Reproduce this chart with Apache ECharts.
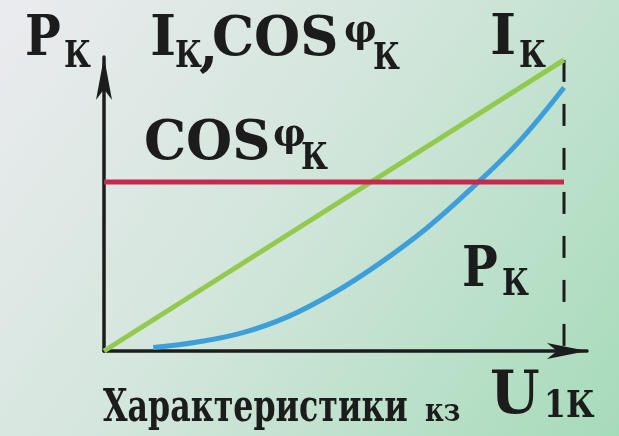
<!DOCTYPE html>
<html>
<head>
<meta charset="utf-8">
<script src="https://cdn.jsdelivr.net/npm/echarts@6/dist/echarts.min.js"></script>
<style>
  html, body { margin: 0; padding: 0; }
  #main { width: 619px; height: 436px; }
</style>
</head>
<body>
<div id="main"></div>
<script>
// U1к (relative), values
var currentPts = [[0, 0], [1, 1]];                 // Iк
var cosPts = [[0, 0.581], [1, 0.581]];             // cos φк
var powerPts = [                                    // Pк
    [0.107, 0.012], [0.2, 0.03], [0.3, 0.062], [0.4, 0.118],
    [0.5, 0.2], [0.6, 0.302], [0.7, 0.42], [0.8, 0.56],
    [0.9, 0.715], [1.0, 0.905]
];
var limitPts = [[1, 1], [1, 0]];                    // dashed U1к limit

var ink = '#1c1c1c';

function txt(s, x, y, size, sx, fam) {
    return {
        type: 'text',
        x: x, y: y,
        scaleX: sx || 1,
        style: {
            text: s,
            fontFamily: fam || 'DejaVu Serif',
            fontWeight: 'bold',
            fontSize: size,
            fill: ink,
            verticalAlign: 'middle'
        }
    };
}

var chart = echarts.init(document.getElementById('main'));
var option = {
    animation: false,
    backgroundColor: {
        type: 'linear', x: 0, y: 0, x2: 1, y2: 1,
        colorStops: [
            { offset: 0, color: '#ebebef' },
            { offset: 0.45, color: '#d3e6dc' },
            { offset: 1, color: '#a6dbba' }
        ]
    },
    grid: { left: 104, right: 32, top: 57, bottom: 85 },
    xAxis: {
        type: 'value', min: 0, max: 1.05,
        axisLine: {
            symbol: ['none', 'arrow'], symbolSize: [12, 40],
            lineStyle: { color: ink, width: 3.5 }
        },
        axisTick: { show: false }, axisLabel: { show: false },
        splitLine: { show: false }
    },
    yAxis: {
        type: 'value', min: 0, max: 1.01,
        axisLine: {
            show: true,
            symbol: ['none', 'arrow'], symbolSize: [12, 43],
            lineStyle: { color: ink, width: 3.5 }
        },
        axisTick: { show: false }, axisLabel: { show: false },
        splitLine: { show: false }
    },
    series: [{
        type: 'line', data: limitPts, symbol: 'none',
        lineStyle: { color: ink, width: 3, type: [22, 22] }
    }, {
        type: 'line', data: currentPts, symbol: 'none',
        lineStyle: { color: '#93c94c', width: 5 }
    }, {
        type: 'line', data: powerPts, symbol: 'none', smooth: 0.4,
        lineStyle: { color: '#3d9fd9', width: 5 }
    }, {
        type: 'line', data: cosPts, symbol: 'none',
        lineStyle: { color: '#c42a4e', width: 5 }
    }],
    graphic: [
        txt('P', 25, 40, 56, 0.85), txt('К', 64, 57, 37, 0.8),
        txt('I', 150, 40, 56), txt('К', 175, 57, 37, 0.8), txt(',', 199, 50, 56),
        txt('COS', 212, 41, 54, 0.98), txt('φ', 344, 32, 40, 0.9), txt('К', 373, 59, 37, 0.8),
        txt('I', 490, 39, 56), txt('К', 519, 57, 37, 0.8),
        txt('COS', 144, 145, 54, 0.98), txt('φ', 273, 136, 40, 0.9), txt('К', 301, 159, 37, 0.8),
        txt('P', 462, 271, 56, 0.85), txt('К', 502, 285, 37, 0.8),
        txt('Характеристики', 103, 410, 44, 0.8, 'DejaVu Serif Condensed'),
        txt('кз', 425, 413, 32, 0.9, 'DejaVu Serif Condensed'),
        txt('U', 490, 397, 60, 0.95), txt('1К', 544, 407, 37, 0.85)
    ]
};
chart.setOption(option);
</script>
</body>
</html>
